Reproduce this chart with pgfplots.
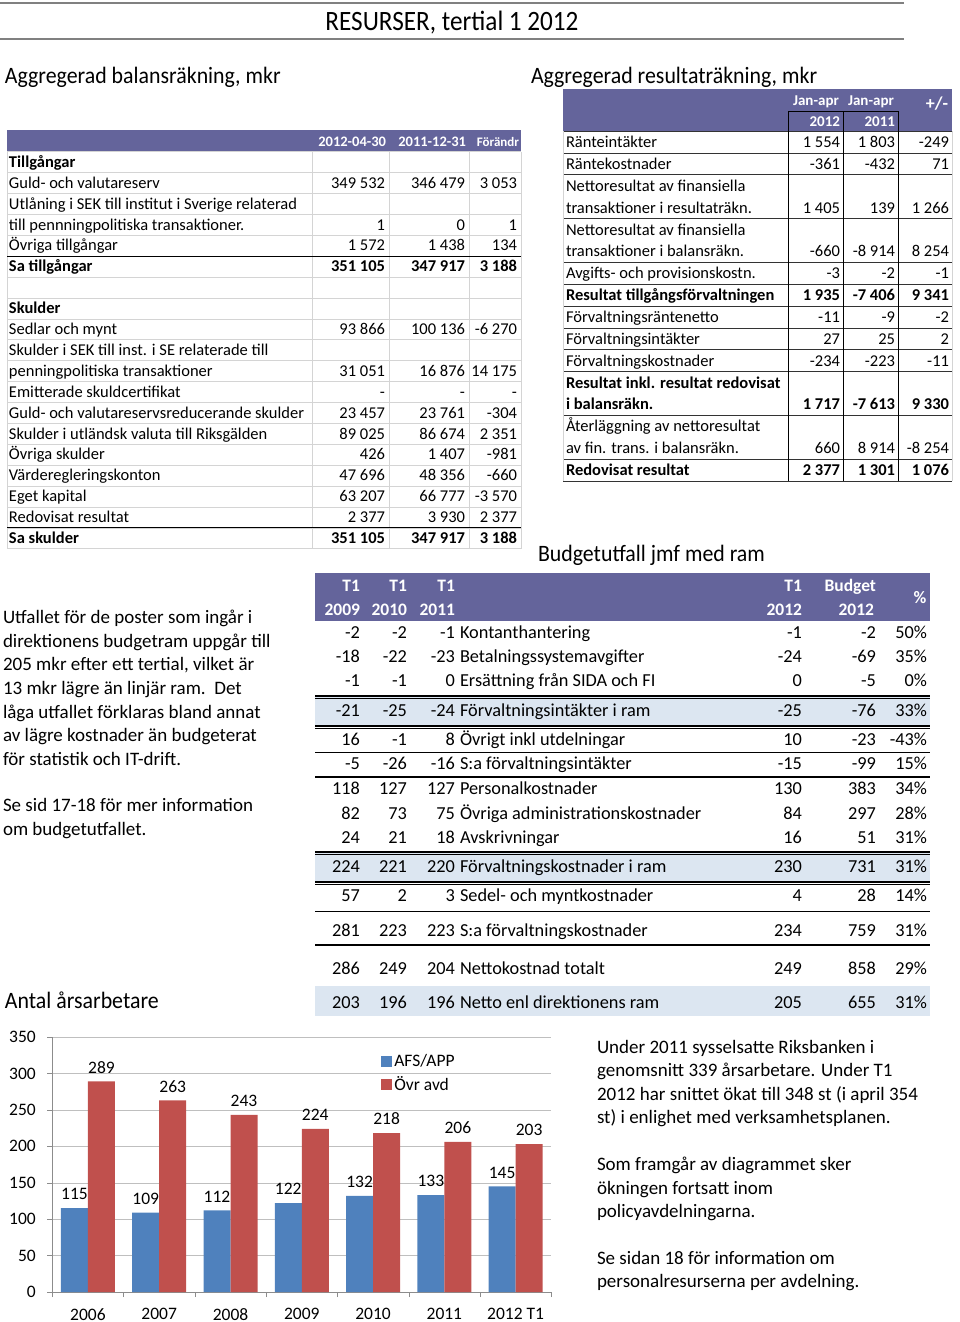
\documentclass[border=0pt]{standalone}
\usepackage{pgfplots}
\pgfplotsset{compat=1.18}
\usepackage{graphicx}
\usepackage{fontspec}
\setmainfont{Carlito}

\definecolor{hdr}{RGB}{100,100,155}
\definecolor{band}{RGB}{220,230,241}
\definecolor{afs}{RGB}{79,129,189}
\definecolor{ovr}{RGB}{192,80,77}
\definecolor{cellline}{RGB}{212,212,212}
\definecolor{rule}{RGB}{128,128,128}

\newcommand\fsz[1]{\fontsize{#1}{#1}\selectfont}

% balansräkning: centre y, label, 2012-04-30, 2011-12-31, förändring
\newcommand\lrow[5]{%
  \node[anchor=base west] at (9,#1+5.3) {#2};
  \node[anchor=base east] at (385,#1+5.3) {#3};
  \node[anchor=base east] at (465,#1+5.3) {#4};
  \node[anchor=base east] at (517,#1+5.3) {#5};}
% resultaträkning
\newcommand\rrow[5]{%
  \node[anchor=base west] at (566,#1+5.5) {#2};
  \node[anchor=base east] at (840,#1+5.5) {#3};
  \node[anchor=base east] at (895,#1+5.5) {#4};
  \node[anchor=base east] at (949,#1+5.5) {#5};}
% budgetutfall: y, T1 2009, T1 2010, T1 2011, post, T1 2012, budget, procent
\newcommand\brow[8]{%
  \node[anchor=base east] at (360,#1+5.9) {#2};
  \node[anchor=base east] at (407,#1+5.9) {#3};
  \node[anchor=base east] at (455,#1+5.9) {#4};
  \node[anchor=base west] at (460,#1+5.9) {#5};
  \node[anchor=base east] at (802,#1+5.9) {#6};
  \node[anchor=base east] at (876,#1+5.9) {#7};
  \node[anchor=base east] at (927,#1+5.9) {#8};}
\newcommand\txt[3]{\node[anchor=base west] at (#1,#2) {#3};}

\begin{document}
\begin{tikzpicture}
\begin{scope}[x=1pt, y=-1pt, every node/.style={inner sep=0pt, outer sep=0pt}]
\path[use as bounding box] (0,0) rectangle (960,1322);

% sidhuvud
\draw[rule, line width=2.5pt] (0,3) -- (904,3);
\draw[rule, line width=1.5pt] (0,39) -- (904,39);
\node[anchor=base] at (452,31) {\scalebox{0.9}[1]{\fsz{28}RESURSER, tertial 1 2012}};

\node[anchor=base west] at (5,84) {\scalebox{0.93}[1]{\fsz{23.5}Aggregerad balansräkning, mkr}};
\node[anchor=base west] at (531,84) {\scalebox{0.93}[1]{\fsz{23.5}Aggregerad resultaträkning, mkr}};
\node[anchor=base west] at (538,561) {\scalebox{0.93}[1]{\fsz{23.5}Budgetutfall jmf med ram}};
\node[anchor=base west] at (5,1008) {\scalebox{0.93}[1]{\fsz{23.5}Antal årsarbetare}};

% ---- balansräkning
\fill[hdr] (7,130) rectangle (521,151.5);
\foreach \k in {0,...,19} \draw[cellline] (7,151.5+20.9*\k) -- (521,151.5+20.9*\k);
\foreach \xx in {7,312,389,469,521} \draw[cellline] (\xx,151.5) -- (\xx,548.6);
\draw[black, line width=1pt] (7,256.0) -- (521,256.0);
\draw[black, line width=1pt] (7,527.7) -- (521,527.7);
\begin{scope}[every node/.append style={font=\fsz{14.5}\bfseries, text=white}]
\node[anchor=base east] at (386,146) {2012-04-30};
\node[anchor=base east] at (466,146) {2011-12-31};
\node[anchor=base east, font=\fsz{13}\bfseries] at (519,146) {Förändr};
\end{scope}
\begin{scope}[every node/.append style={font=\fsz{16.5}}]
\lrow{162.0}{\textbf{Tillgångar}}{}{}{}
\lrow{182.9}{Guld- och valutareserv}{349 532}{346 479}{3 053}
\lrow{203.8}{Utlåning i SEK till institut i Sverige relaterad}{}{}{}
\lrow{224.7}{till pennningpolitiska transaktioner.}{1}{0}{1}
\lrow{245.6}{Övriga tillgångar}{1 572}{1 438}{134}
\lrow{266.5}{\textbf{Sa tillgångar}}{\textbf{351 105}}{\textbf{347 917}}{\textbf{3 188}}
\lrow{308.3}{\textbf{Skulder}}{}{}{}
\lrow{329.2}{Sedlar och mynt}{93 866}{100 136}{-6 270}
\lrow{350.1}{Skulder i SEK till inst. i SE relaterade till}{}{}{}
\lrow{371.0}{penningpolitiska transaktioner}{31 051}{16 876}{14 175}
\lrow{391.9}{Emitterade skuldcertifikat}{-}{-}{-}
\lrow{412.8}{Guld- och valutareservsreducerande skulder}{23 457}{23 761}{-304}
\lrow{433.7}{Skulder i utländsk valuta till Riksgälden}{89 025}{86 674}{2 351}
\lrow{454.6}{Övriga skulder}{426}{1 407}{-981}
\lrow{475.5}{Värderegleringskonton}{47 696}{48 356}{-660}
\lrow{496.4}{Eget kapital}{63 207}{66 777}{-3 570}
\lrow{517.3}{Redovisat resultat}{2 377}{3 930}{2 377}
\lrow{538.2}{\textbf{Sa skulder}}{\textbf{351 105}}{\textbf{347 917}}{\textbf{3 188}}
\end{scope}

% ---- resultaträkning
\fill[hdr] (563,89) rectangle (952,131.1);
\foreach \yy in {131.1,153.0,174.8,218.6,262.4,284.2,306.1,328.0,349.8,371.7,415.4,459.2,481.0}
  \draw[black!80, line width=0.8pt] (563,\yy) -- (952,\yy);
\foreach \xx in {563,952} \draw[cellline, line width=0.8pt] (\xx,131.1) -- (\xx,481);
\foreach \xx in {788,843,898} \draw[black, line width=0.9pt] (\xx,111) -- (\xx,481);
\draw[black, line width=0.9pt] (788,111) -- (898,111);
\begin{scope}[every node/.append style={font=\fsz{15}\bfseries, text=white}]
\node[anchor=base] at (816,105) {Jan-apr};
\node[anchor=base] at (871,105) {Jan-apr};
\node[anchor=base east] at (840,126.5) {2012};
\node[anchor=base east] at (895,126.5) {2011};
\node[anchor=base east, font=\fsz{18}\bfseries] at (948,109) {+/-};
\end{scope}
\begin{scope}[every node/.append style={font=\fsz{16.5}}]
\rrow{142.0}{Ränteintäkter}{1 554}{1 803}{-249}
\rrow{163.9}{Räntekostnader}{-361}{-432}{71}
\rrow{185.7}{Nettoresultat av finansiella}{}{}{}
\rrow{207.6}{transaktioner i resultaträkn.}{1 405}{139}{1 266}
\rrow{229.5}{Nettoresultat av finansiella}{}{}{}
\rrow{251.4}{transaktioner i balansräkn.}{-660}{-8 914}{8 254}
\rrow{273.2}{Avgifts- och provisionskostn.}{-3}{-2}{-1}
\rrow{295.1}{\textbf{Resultat tillgångsförvaltningen}}{\textbf{1 935}}{\textbf{-7 406}}{\textbf{9 341}}
\rrow{317.0}{Förvaltningsräntenetto}{-11}{-9}{-2}
\rrow{338.8}{Förvaltningsintäkter}{27}{25}{2}
\rrow{360.7}{Förvaltningskostnader}{-234}{-223}{-11}
\rrow{382.6}{\textbf{Resultat inkl. resultat redovisat}}{}{}{}
\rrow{404.4}{\textbf{i balansräkn.}}{\textbf{1 717}}{\textbf{-7 613}}{\textbf{9 330}}
\rrow{426.3}{Återläggning av nettoresultat}{}{}{}
\rrow{448.2}{av fin. trans. i balansräkn.}{660}{8 914}{-8 254}
\rrow{470.1}{\textbf{Redovisat resultat}}{\textbf{2 377}}{\textbf{1 301}}{\textbf{1 076}}
\end{scope}

% ---- budgetutfall
\fill[hdr] (315,573) rectangle (930,621);
\fill[band] (315,697) rectangle (930,726);
\fill[band] (315,853) rectangle (930,882);
\fill[band] (315,986) rectangle (930,1016);
\foreach \yy in {696,726,852,882} {
  \draw[black, line width=1.3pt] (315,\yy) -- (930,\yy);
  \draw[black, line width=0.6pt] (315,\yy+2.6) -- (930,\yy+2.6);}
\foreach \yy in {752,911} \draw[black, line width=0.8pt] (315,\yy) -- (930,\yy);
\foreach \yy in {777,945} \draw[black, line width=2pt] (315,\yy) -- (930,\yy);
\begin{scope}[every node/.append style={font=\fsz{17.5}\bfseries, text=white}]
\foreach \xx/\yr in {360/2009,407/2010,455/2011,802/2012} {
  \node[anchor=base east] at (\xx,591) {T1};
  \node[anchor=base east] at (\xx,615) {\yr};}
\node[anchor=base east] at (876,591) {Budget};
\node[anchor=base east] at (874,615) {2012};
\node[anchor=base] at (920,603) {\%};
\end{scope}
\begin{scope}[every node/.append style={font=\fsz{18.3}}]
\brow{633}{-2}{-2}{-1}{Kontanthantering}{-1}{-2}{50\%}
\brow{657}{-18}{-22}{-23}{Betalningssystemavgifter}{-24}{-69}{35\%}
\brow{681}{-1}{-1}{0}{Ersättning från SIDA och FI}{0}{-5}{0\%}
\brow{711}{-21}{-25}{-24}{Förvaltningsintäkter i ram}{-25}{-76}{33\%}
\brow{740}{16}{-1}{8}{Övrigt inkl utdelningar}{10}{-23}{-43\%}
\brow{764}{-5}{-26}{-16}{S:a förvaltningsintäkter}{-15}{-99}{15\%}
\brow{789}{118}{127}{127}{Personalkostnader}{130}{383}{34\%}
\brow{814}{82}{73}{75}{Övriga administrationskostnader}{84}{297}{28\%}
\brow{838}{24}{21}{18}{Avskrivningar}{16}{51}{31\%}
\brow{867}{224}{221}{220}{Förvaltningskostnader i ram}{230}{731}{31\%}
\brow{896}{57}{2}{3}{Sedel- och myntkostnader}{4}{28}{14\%}
\brow{931}{281}{223}{223}{S:a förvaltningskostnader}{234}{759}{31\%}
\brow{969}{286}{249}{204}{Nettokostnad totalt}{249}{858}{29\%}
\brow{1003}{203}{196}{196}{Netto enl direktionens ram}{205}{655}{31\%}
\end{scope}

% ---- löptext
\begin{scope}[every node/.append style={font=\fsz{19}}]
\txt{3}{623}{Utfallet för de poster som ingår i}
\txt{3}{647}{direktionens budgetram uppgår till}
\txt{3}{670}{205 mkr efter ett tertial, vilket är}
\txt{3}{694}{13 mkr lägre än linjär ram.\ \ Det}
\txt{3}{718}{låga utfallet förklaras bland annat}
\txt{3}{741}{av lägre kostnader än budgeterat}
\txt{3}{765}{för statistik och IT-drift.}
\txt{3}{811}{Se sid 17-18 för mer information}
\txt{3}{835}{om budgetutfallet.}
\txt{597}{1053}{Under 2011 sysselsatte Riksbanken i}
\txt{597}{1076}{genomsnitt 339 årsarbetare. Under T1}
\txt{597}{1100}{2012 har snittet ökat till 348 st (i april 354}
\txt{597}{1123}{st) i enlighet med verksamhetsplanen.}
\txt{597}{1170}{Som framgår av diagrammet sker}
\txt{597}{1194}{ökningen fortsatt inom}
\txt{597}{1217}{policyavdelningarna.}
\txt{597}{1264}{Se sidan 18 för information om}
\txt{597}{1287}{personalresurserna per avdelning.}
\end{scope}
\end{scope}

% ---- Antal årsarbetare
\begin{axis}[
  at={(52.3pt,-1292pt)}, anchor=south west,
  scale only axis, width=499pt, height=255pt,
  ybar=0pt, bar width=27pt,
  xmin=-0.5, xmax=6.5, ymin=0, ymax=350,
  ytick={0,50,...,350},
  xtick={-0.5,0.5,...,6.5}, xticklabels={},
  extra x ticks={0,...,6},
  extra x tick labels={2006,2007,2008,2009,2010,2011,2012 T1},
  extra x tick style={major tick length=0pt, grid=none},
  axis lines=left, axis line style={-, draw=black!45},
  ymajorgrids, grid style={draw=black!25},
  tick align=outside, major tick length=5pt, tick style={draw=black!45},
  /pgf/number format/assume math mode=true,
  ticklabel style={font=\fsz{17.5}},
  xticklabel style={inner sep=0pt, yshift=-16pt},
  yticklabel style={xshift=-8pt},
  nodes near coords,
  every node near coord/.append style={font=\fsz{17.5}, anchor=south, inner sep=0pt, yshift=8pt},
  legend style={at={(0.653,0.949)}, anchor=north west, draw=none, fill=none,
    font=\fsz{17.5}, row sep=5pt, /tikz/every even column/.append style={column sep=6pt}},
  legend cell align=left,
  sq/.style={legend image code/.code={\fill[##1] (0pt,-5.5pt) rectangle (11pt,5.5pt);}},
]
\addplot[fill=afs, draw=none, sq] coordinates {(0,115) (1,109) (2,112) (3,122) (4,132) (5,133) (6,145)};
\addplot[fill=ovr, draw=none, sq] coordinates {(0,289) (1,263) (2,243) (3,224) (4,218) (5,206) (6,203)};
\legend{AFS/APP, Övr avd}
\end{axis}
\pgfresetboundingbox
\path[use as bounding box] (0pt,0pt) rectangle (960pt,-1322pt);
\end{tikzpicture}
\end{document}
